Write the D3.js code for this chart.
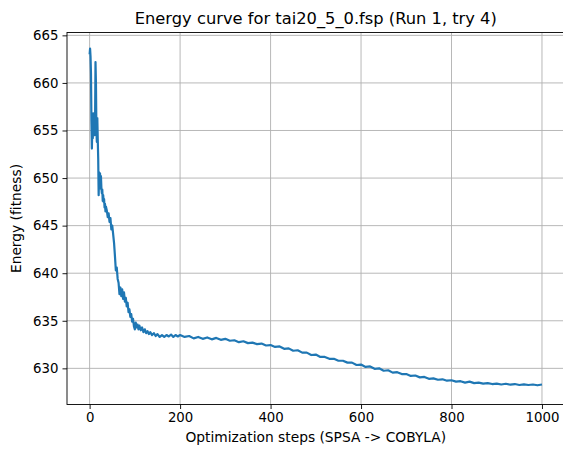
<!DOCTYPE html>
<html>
<head>
<meta charset="utf-8">
<script src="https://cdn.jsdelivr.net/npm/d3@7"></script>
<style>
	body { margin: 0; background: #fff; }
	text { font-family: "DejaVu Sans", sans-serif; fill: #000; font-variant-ligatures: none; }
</style>
</head>
<body>
<svg width="563" height="449"></svg>
<script>
var steps = [0,1,2,3,4,5,6,7,8,9,10,11,12,13,14,15,16,17,18,19,20,21,22,23,24,25,26,27,28,29,30,31,32,33,34,35,36,
		38,40,42,44,46,48,50,52,54,56,58,60,62,64,66,68,70,72,74,76,78,80,82,84,86,88,90,92,94,96,98,100,102,104,106,108,110,
		113,116,119,122,125,128,131,134,138,142,146,150,155,160,165,170,175,180,185,190,195,200,
		210,220,230,240,250,260,270,280,290,300,310,320,330,340,350,360,370,380,390,400,
		410,420,430,440,450,460,470,480,490,500,510,520,530,540,550,560,570,580,590,600,
		610,620,630,640,650,660,670,680,690,700,710,720,730,740,750,760,770,780,790,800,
		810,820,830,840,850,860,870,880,890,900,910,920,930,940,950,960,970,980,990,1000],

	energy = [663.0,663.6,662.8,661.0,656.0,653.1,655.5,654.2,656.8,655.0,656.5,654.5,655.8,662.2,660.0,655.0,653.8,656.3,654.0,652.0,
		648.2,650.6,649.2,650.5,648.9,650.2,649.0,648.4,648.8,647.6,648.2,647.5,647.8,646.9,647.3,646.5,647.0,
		646.6,645.9,646.3,645.4,645.8,644.6,645.0,644.1,643.2,641.8,640.3,640.6,639.4,639.0,637.8,638.5,637.6,638.3,637.3,638.0,
		637.0,637.4,636.5,636.9,635.9,636.2,635.4,635.7,634.9,635.2,634.4,634.1,634.8,634.3,634.6,634.1,634.5,
		634.0,634.3,633.8,634.1,633.7,633.9,633.6,633.8,633.5,633.7,633.4,633.6,633.3,633.5,633.3,633.5,633.35,633.55,633.3,633.5,633.35,633.5,
		633.3,633.4,633.15,633.3,633.1,633.25,633.05,633.2,633.0,633.1,632.9,632.95,632.75,632.85,632.65,632.7,632.55,632.6,632.4,632.45,
		632.25,632.3,632.05,632.1,631.85,631.9,631.65,631.65,631.4,631.45,631.2,631.2,631.0,631.0,630.8,630.8,630.6,630.6,630.35,630.4,
		630.15,630.2,629.95,630.0,629.75,629.8,629.55,629.6,629.4,629.4,629.2,629.25,629.05,629.1,628.9,628.95,628.8,628.85,628.7,628.75,
		628.6,628.65,628.5,628.6,628.45,628.5,628.4,628.45,628.35,628.4,628.3,628.38,628.28,628.35,628.25,628.32,628.25,628.3,628.22,628.3],

	xTicks = [0,200,400,600,800,1000],
	yTicks = [630,635,640,645,650,655,660,665],

	title = 'Energy curve for tai20_5_0.fsp (Run 1, try 4)',
	xLabel = 'Optimization steps (SPSA -> COBYLA)',
	yLabel = 'Energy (fitness)';

(function () {
	var svg = d3.select('svg'),
		left = 67, right = 564.6, top = 32.5, bottom = 404.5,

		x = d3.scaleLinear().domain([-50, 1050]).range([left, right]),
		y = d3.scaleLinear().domain([626.2, 665.3]).range([bottom, top]),

		pts = steps.map(function (s, i) { return [s, energy[i]]; });

	svg.append('rect').attr('width', 563).attr('height', 449).attr('fill', '#fff');

	// grid
	svg.append('g').selectAll('line').data(xTicks).enter().append('line')
		.attr('x1', function (d) { return x(d); }).attr('x2', function (d) { return x(d); })
		.attr('y1', top).attr('y2', bottom)
		.attr('stroke', '#b0b0b0').attr('stroke-width', 0.9);
	svg.append('g').selectAll('line').data(yTicks).enter().append('line')
		.attr('y1', function (d) { return y(d); }).attr('y2', function (d) { return y(d); })
		.attr('x1', left).attr('x2', right)
		.attr('stroke', '#b0b0b0').attr('stroke-width', 0.9);

	svg.append('path')
		.datum(pts)
		.attr('fill', 'none')
		.attr('stroke', '#1f77b4')
		.attr('stroke-width', 2.2)
		.attr('stroke-linejoin', 'round')
		.attr('d', d3.line().x(function (d) { return x(d[0]); }).y(function (d) { return y(d[1]); }));

	// axes
	var xa = svg.append('g').attr('transform', 'translate(0,' + bottom + ')')
		.call(d3.axisBottom(x).tickValues(xTicks).tickSize(4.5).tickPadding(4).tickFormat(d3.format('d')));
	var ya = svg.append('g').attr('transform', 'translate(' + left + ',0)')
		.call(d3.axisLeft(y).tickValues(yTicks).tickSize(4.5).tickPadding(4).tickFormat(d3.format('d')));
	[xa, ya].forEach(function (a) {
		a.select('.domain').remove();
		a.selectAll('line').attr('stroke', '#000').attr('stroke-width', 0.9);
		a.selectAll('text').attr('font-family', '"DejaVu Sans", sans-serif').attr('font-size', 13.3).attr('fill', '#222');
	});

	svg.append('rect')
		.attr('x', left).attr('y', top).attr('width', right - left).attr('height', bottom - top)
		.attr('fill', 'none').attr('stroke', '#000').attr('stroke-width', 0.9);

	svg.append('text').attr('x', (left + right) / 2).attr('y', 24)
		.attr('text-anchor', 'middle').attr('font-size', 16.3).attr('fill', '#111').text(title);
	svg.append('text').attr('x', (left + right) / 2).attr('y', 442)
		.attr('text-anchor', 'middle').attr('font-size', 13.8).attr('fill', '#111').text(xLabel);
	svg.append('text').attr('transform', 'translate(21,' + (top + bottom) / 2 + ') rotate(-90)')
		.attr('text-anchor', 'middle').attr('font-size', 13.8).attr('fill', '#111').text(yLabel);
})();
</script>
</body>
</html>
